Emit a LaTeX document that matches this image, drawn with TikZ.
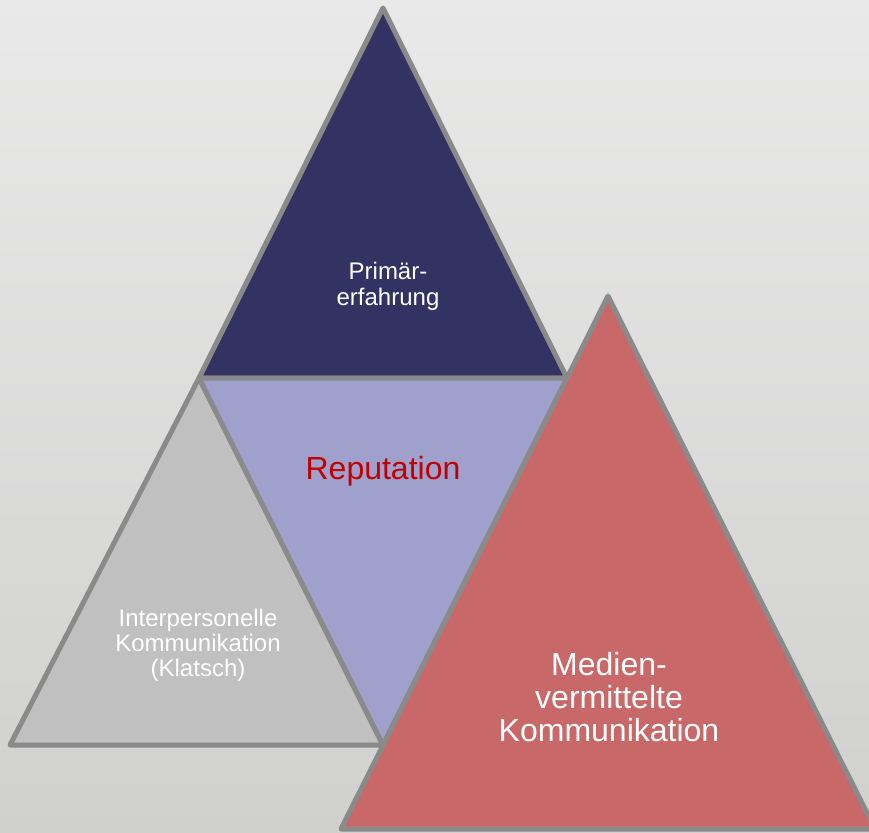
\documentclass[tikz,border=0pt]{standalone}
\usepackage{fontspec}
\setmainfont{Liberation Sans}
\usepackage{tikz}
\usetikzlibrary{positioning}
\definecolor{bgtop}{RGB}{233,233,233}
\definecolor{bgbottom}{RGB}{208,208,207}
\definecolor{edge}{RGB}{138,138,138}
\definecolor{navy}{RGB}{51,51,99}
\definecolor{lavender}{RGB}{160,160,205}
\definecolor{klatschgray}{RGB}{192,192,192}
\definecolor{medienred}{RGB}{200,104,104}
\definecolor{repred}{RGB}{192,0,0}
\tikzset {
    tri/.style = {
        draw = edge,
        fill = #1,
        line width = 5pt,
        line join = round
    },
    whitetext/.style 2 args = {
        align = center,
        text = white,
        font = {\fontsize{#1}{#2}\selectfont} % size and line spacing
    }
}

\begin{document}
\begin{tikzpicture}[x=1pt, y=-1pt]
        \clip (0,0) rectangle (869,832);
        \shade [top color=bgtop, bottom color=bgbottom] (0,0) rectangle (869,832);

        % Corners of the big pyramid and of the red triangle
        \coordinate (apex)    at (383,8);
        \coordinate (midL)    at (199,378);
        \coordinate (midR)    at (567,378);
        \coordinate (bot)     at (383,745);
        \coordinate (baseL)   at (10,745);
        \coordinate (redtop)  at (608,296);
        \coordinate (redL)    at (341,829);
        \coordinate (redR)    at (875,829);

        \path [tri=klatschgray]  (baseL) -- (midL) -- (bot) -- cycle;
        \path [tri=navy]         (apex) -- (midR) -- (midL) -- cycle;
        \path [tri=lavender]     (midL) -- (midR) -- (bot) -- cycle;
        \path [tri=medienred]    (redtop) -- (redR) -- (redL) -- cycle;

        % Texts
        \node [whitetext={24pt}{26pt}]                                at (388,286)   (primaer)    {Primär-\\erfahrung};
        \node [font={\fontsize{32pt}{34pt}\selectfont}, text=repred]  at (383,471)   (reputation) {Reputation};
        \node [whitetext={24pt}{25pt}]                                at (198,645)   (klatsch)    {Interpersonelle\\Kommunikation\\(Klatsch)};
        \node [whitetext={32pt}{33pt}]                                at (609,697)   (medien)     {Medien-\\vermittelte\\Kommunikation};
\end{tikzpicture}
\end{document}
